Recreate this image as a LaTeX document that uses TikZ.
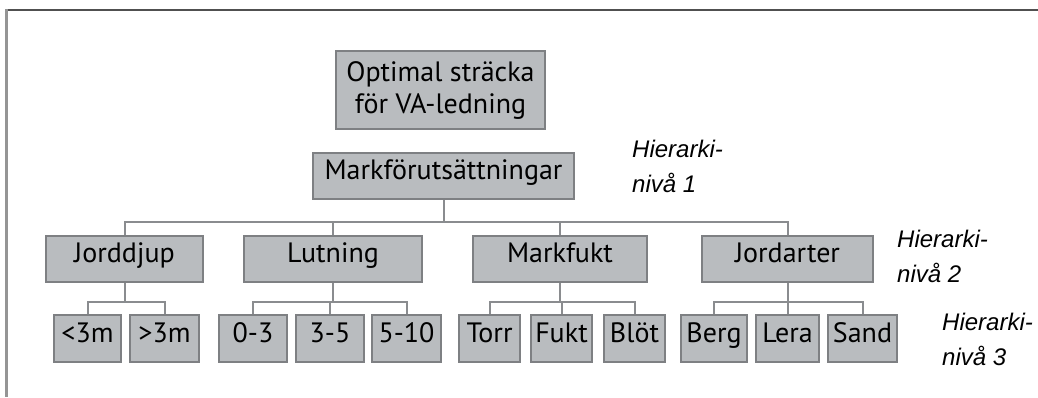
\documentclass[tikz,border=0pt]{standalone}
\usepackage{fontspec}
\setmainfont{PT Sans}
\newfontfamily\lblfont{Liberation Sans}
\begin{document}
\begin{tikzpicture}[x=1pt,y=-1pt,
  box/.style={draw=boxline, fill=boxfill, line width=2pt, inner sep=0pt,
    font=\fontsize{28}{32}\selectfont, align=center},
  onebox/.style={box, text height=0.7em, text depth=0pt},
  link/.style={draw=linkgray, line width=2pt},
  level/.style={anchor=north west, inner sep=0pt, align=left,
    font=\lblfont\itshape\fontsize{24}{35}\selectfont}]
\definecolor{boxfill}{HTML}{B9BCBF}
\definecolor{boxline}{HTML}{7E8083}
\definecolor{linkgray}{HTML}{8A8C8F}
\definecolor{frametop}{HTML}{505050}
\definecolor{frameleft}{HTML}{959595}
\useasboundingbox (0,0) rectangle (1038,397);
\fill[white] (0,0) rectangle (1038,397);

% frame
\draw[frametop, line width=2pt] (5.5,10) -- (1038,10);
\draw[frameleft, line width=2.5pt] (6.5,9) -- (6.5,397);

% root and level 1
\node[box, minimum width=209pt, minimum height=78pt] (root) at (440.5,90) {Optimal sträcka\\för VA-ledning};
\node[onebox, minimum width=261pt, minimum height=46pt] (mark) at (443.5,176) {Markförutsättningar};

% level 2
\node[onebox, minimum width=157pt, minimum height=46pt] (jdj) at (124.5,259) {Jorddjup};
\node[onebox, minimum width=178pt, minimum height=46pt] (lut) at (333,259) {Lutning};
\node[onebox, minimum width=174pt, minimum height=46pt] (mfu) at (560,259) {Markfukt};
\node[onebox, minimum width=171pt, minimum height=46pt] (jar) at (787.5,259) {Jordarter};

% level 3
\node[onebox, minimum width=67pt, minimum height=47pt] (lt3) at (87.5,338.5) {<3m};
\node[onebox, minimum width=69pt, minimum height=47pt] (gt3) at (164.5,338.5) {>3m};
\node[onebox, minimum width=68pt, minimum height=47pt] (s03) at (253,338.5) {0-3};
\node[onebox, minimum width=68pt, minimum height=47pt] (s35) at (330,338.5) {3-5};
\node[onebox, minimum width=69pt, minimum height=47pt] (s510) at (406.5,338.5) {5-10};
\node[onebox, minimum width=61pt, minimum height=47pt] (torr) at (489.5,338.5) {Torr};
\node[onebox, minimum width=61pt, minimum height=47pt] (fukt) at (561.5,338.5) {Fukt};
\node[onebox, minimum width=61pt, minimum height=47pt] (blot) at (634.5,338.5) {Blöt};
\node[onebox, minimum width=66pt, minimum height=47pt] (berg) at (714,338.5) {Berg};
\node[onebox, minimum width=63pt, minimum height=47pt] (lera) at (787.5,338.5) {Lera};
\node[onebox, minimum width=69pt, minimum height=47pt] (sand) at (862.5,338.5) {Sand};

% bus heights
\coordinate (busA) at (0,222);
\coordinate (busB) at (0,302);

% level 1 -> level 2
\draw[link] (mark.south) -- (mark.south |- busA);
\draw[link] (jdj.north) |- (busA -| jar.north) -- (jar.north);
\draw[link] (lut.north) -- (lut.north |- busA);
\draw[link] (mfu.north) -- (mfu.north |- busA);

% level 2 -> level 3
\draw[link] (jdj.south) -- (jdj.south |- busB);
\draw[link] (lt3.north) |- (busB -| gt3.north) -- (gt3.north);
\draw[link] (lut.south) -- (lut.south |- busB);
\draw[link] (s03.north) |- (busB -| s510.north) -- (s510.north);
\draw[link] (s35.north) -- (s35.north |- busB);
\draw[link] (mfu.south) -- (mfu.south |- busB);
\draw[link] (torr.north) |- (busB -| blot.north) -- (blot.north);
\draw[link] (fukt.north) -- (fukt.north |- busB);
\draw[link] (jar.south) -- (jar.south |- busB);
\draw[link] (berg.north) |- (busB -| sand.north) -- (sand.north);
\draw[link] (lera.north) -- (lera.north |- busB);

% hierarchy labels
\node[level] (lv1) at (632,140) {Hierarki-\\nivå 1};
\node[level] (lv2) at (897,230) {Hierarki-\\nivå 2};
\node[level] (lv3) at (942,313) {Hierarki-\\nivå 3};
\end{tikzpicture}
\end{document}
